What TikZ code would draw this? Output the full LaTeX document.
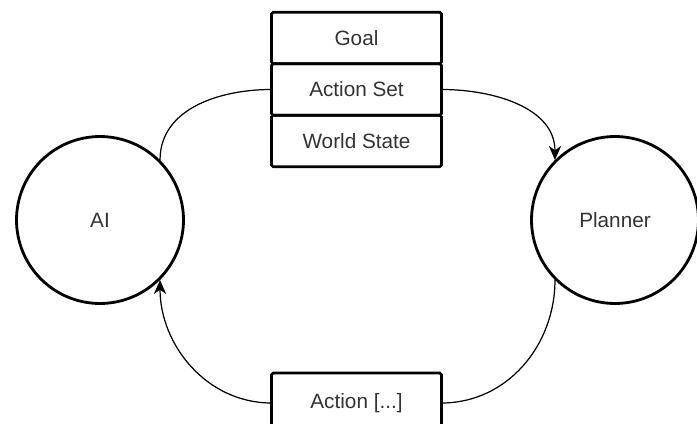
\documentclass[tikz,border=0pt]{standalone}
\usepackage{fontspec}
\setmainfont{Liberation Sans}
\usetikzlibrary{positioning,arrows.meta}

\tikzset{
    stackbox/.style={draw=black, line width=1.5pt, rounded corners=1pt,
        minimum width=3.4cm, minimum height=1.03cm, inner sep=0pt, outer sep=0pt,
        text=black!80, font=\fontsize{11.8}{14}\selectfont},
    agent/.style={circle, draw=black, line width=1.6pt, minimum size=3.34cm,
        inner sep=0pt, text=black!80, font=\fontsize{11.8}{14}\selectfont},
    flow/.style={line width=0.7pt},
    tip/.style={-{Stealth[length=8pt,width=7pt,inset=2.5pt]}}
}

\begin{document}
\begin{tikzpicture}[x=0.02cm,y=-0.02cm]
    % Fix the page size
    \useasboundingbox (0,0) rectangle (697,423);

    % Draw the two agents
    \node[agent] (ai) at (100,220) {AI};
    \node[agent] (planner) at (615,220) {Planner};

    % Draw the stack of inputs
    \node[stackbox] (goal) at (356.5,38) {Goal};
    \node[stackbox, below=0pt of goal] (actset) {Action Set};
    \node[stackbox, below=0pt of actset] (world) {World State};

    % Draw the result box (cut off by the page edge)
    \node[stackbox, minimum height=1.2cm] (action) at (356.5,403) {Action [...]};

    % Connect agents through the boxes
    \draw[flow] (ai.45) to[out=90, in=180] (actset.west);
    \draw[flow, tip] (actset.east) to[out=0, in=90] (planner.135);
    \draw[flow] (planner.225) to[out=-90, in=0] (action.east);
    \draw[flow, tip] (action.west) to[out=180, in=-90] (ai.-45);

\end{tikzpicture}
\end{document}
